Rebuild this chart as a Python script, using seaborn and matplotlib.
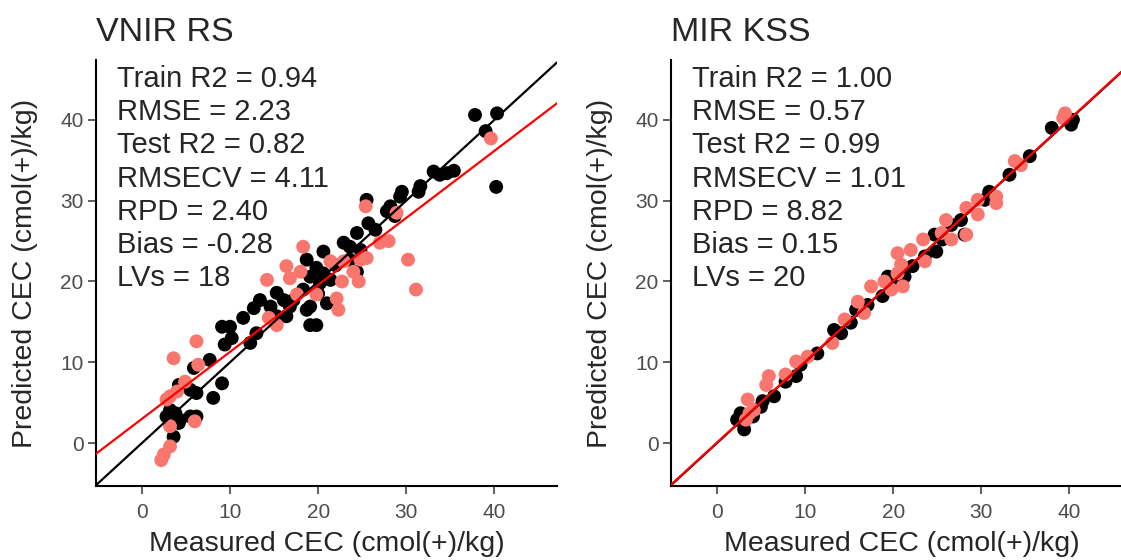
import matplotlib
matplotlib.use('Agg')
import matplotlib.pyplot as plt
import seaborn as sns
import numpy as np
import pandas as pd

# ---------------------------------------------------------------------------
# Datos
# ---------------------------------------------------------------------------
# VNIR RS - calibración (negro)
vnir_train_x = [37.8, 40.3, 40.2, 39.0, 33.1, 33.8, 34.6, 35.4, 31.6, 31.4, 29.5, 29.3,
                28.2, 27.8, 28.7, 25.5, 25.7, 26.5, 24.4, 22.9, 23.6, 24.8, 20.6, 18.7,
                19.8, 20.6, 21.4, 20.2, 19.1, 18.3, 19.1, 18.7, 19.1, 19.8, 21.0, 24.4,
                23.6, 17.2, 16.8, 16.1, 15.3, 14.6, 13.4, 12.7, 11.5, 13.0, 12.3, 10.0,
                9.1, 10.2, 9.4, 7.7, 5.9, 9.1, 8.1, 6.2, 5.5, 4.2, 3.2, 3.8, 2.8, 4.3,
                5.5, 6.2, 3.6, 4.2, 15.3, 16.4, 22.0, 20.0]
vnir_train_y = [40.6, 40.8, 31.7, 38.6, 33.6, 33.2, 33.4, 33.7, 31.8, 31.1, 31.1, 30.5,
                29.3, 28.7, 28.1, 30.1, 27.2, 26.4, 26.0, 24.8, 24.3, 23.9, 23.7, 22.7,
                21.7, 21.0, 20.2, 19.8, 20.6, 19.0, 16.9, 16.5, 14.6, 14.6, 17.3, 21.2,
                22.7, 17.7, 16.9, 17.7, 18.6, 16.9, 17.7, 16.7, 15.5, 13.6, 12.4, 14.4,
                14.4, 13.0, 12.2, 10.3, 9.3, 7.4, 5.6, 6.2, 6.6, 7.2, 4.1, 3.7, 3.3, 2.9,
                3.3, 3.3, 0.8, 2.5, 15.7, 15.7, 22.0, 18.5]
# VNIR RS - validación (salmón)
vnir_test_x = [39.6, 25.4, 28.9, 28.0, 27.0, 25.5, 24.8, 30.2, 31.1, 18.3, 21.4, 16.4,
               16.8, 14.2, 18.0, 22.9, 24.0, 24.6, 22.7, 22.1, 22.3, 19.8, 17.6, 14.4,
               15.3, 6.2, 3.6, 6.4, 4.9, 4.0, 3.2, 2.8, 6.0, 3.2, 3.2, 2.5, 2.2]
vnir_test_y = [37.7, 29.3, 28.5, 25.0, 24.8, 22.9, 22.7, 22.7, 19.0, 24.3, 22.5, 21.9,
               20.4, 20.2, 21.2, 22.5, 21.2, 20.0, 20.0, 17.9, 16.5, 18.4, 18.4, 15.5,
               14.6, 12.6, 10.5, 9.7, 7.6, 6.4, 5.8, 5.4, 2.7, 2.1, -0.4, -1.4, -2.1]

# MIR KSS - calibración (negro)
mir_train_x = [38.0, 40.2, 40.4, 35.5, 33.2, 30.9, 30.4, 28.1, 27.7, 26.6, 24.7, 24.9,
               23.6, 22.2, 21.3, 19.4, 18.8, 17.1, 15.8, 13.3, 14.1, 11.4, 9.5, 9.0,
               7.8, 6.5, 5.2, 5.0, 2.7, 2.3, 3.1, 4.1, 15.2, 20.2, 25.6]
mir_train_y = [39.0, 39.4, 40.0, 35.5, 33.2, 31.1, 30.1, 25.8, 27.6, 27.0, 25.8, 23.7,
               23.1, 21.9, 20.6, 20.6, 18.2, 17.1, 16.5, 14.0, 13.6, 11.1, 9.7, 8.3,
               7.6, 5.8, 5.2, 4.5, 3.7, 2.9, 1.7, 3.3, 14.9, 19.6, 25.2]
# MIR KSS - validación (salmón)
mir_test_x = [39.5, 39.3, 33.8, 34.5, 31.7, 31.7, 29.6, 28.3, 29.6, 28.3, 26.0, 26.6,
              25.5, 23.4, 22.0, 20.5, 23.6, 20.9, 20.5, 21.1, 19.8, 17.5, 19.0, 16.0,
              16.7, 14.5, 13.1, 10.3, 9.0, 7.8, 5.9, 5.6, 3.5, 4.2, 3.3, 3.7]
mir_test_y = [40.8, 40.2, 34.9, 34.4, 30.5, 29.7, 30.1, 29.1, 28.3, 25.8, 27.6, 25.2,
              26.0, 25.2, 23.9, 23.5, 22.5, 22.1, 21.0, 19.4, 19.0, 19.4, 20.0, 17.5,
              16.1, 15.3, 12.4, 10.7, 10.1, 8.5, 8.3, 7.2, 5.4, 4.1, 2.9, 3.7]

# Recta de ajuste (rojo): intercepto, pendiente
vnir_fit = (3.0, 0.829)
mir_fit = (0.05, 1.0)

titles = ['VNIR RS', 'MIR KSS']
stats = [
    ['Train R2 = 0.94', 'RMSE = 2.23', 'Test R2 = 0.82', 'RMSECV = 4.11',
     'RPD = 2.40', 'Bias = -0.28', 'LVs = 18'],
    ['Train R2 = 1.00', 'RMSE = 0.57', 'Test R2 = 0.99', 'RMSECV = 1.01',
     'RPD = 8.82', 'Bias = 0.15', 'LVs = 20'],
]
ticks = [0, 10, 20, 30, 40]

# ---------------------------------------------------------------------------
# Estilo
# ---------------------------------------------------------------------------
sns.set_theme(style="ticks")
plt.rcParams['font.family'] = ['Liberation Sans', 'DejaVu Sans']

W, H = 1121, 560
fig = plt.figure(figsize=(W / 100, H / 100), dpi=100)

panels = [
    (vnir_train_x, vnir_train_y, vnir_test_x, vnir_test_y, vnir_fit, 96),
    (mir_train_x, mir_train_y, mir_test_x, mir_test_y, mir_fit, 671),
]

for k, (trx, try_, tex, tey, fit, left_px) in enumerate(panels):
    ax = fig.add_axes([left_px / W, 74 / H, 461 / W, 426 / H])
    df_tr = pd.DataFrame({'x': trx, 'y': try_})
    df_te = pd.DataFrame({'x': tex, 'y': tey})
    sns.scatterplot(data=df_tr, x='x', y='y', color='black', s=100,
                    edgecolor='none', ax=ax, zorder=2)
    sns.scatterplot(data=df_te, x='x', y='y', color='#F8766D', s=100,
                    edgecolor='none', ax=ax, zorder=3)
    ax.axline((0, 0), slope=1, color='black', lw=1.6, zorder=4)
    ax.axline((0, fit[0]), slope=fit[1], color='#FF0000', lw=1.6, zorder=5)

    ax.set_xlim(-5.2, 47.1)
    ax.set_ylim(-5.3, 47.4)
    ax.set_xticks(ticks)
    ax.set_yticks(ticks)
    ax.tick_params(axis='both', labelsize=15, labelcolor='#4D4D4D',
                   color='#333333', length=6, width=1.1, pad=3)
    ax.tick_params(axis='x', pad=6)
    for side in ['top', 'right']:
        ax.spines[side].set_visible(False)
    for side in ['left', 'bottom']:
        ax.spines[side].set_color('black')
        ax.spines[side].set_linewidth(1.5)

    ax.set_xlabel('Measured CEC (cmol(+)/kg)', fontsize=20.5, labelpad=7)
    ax.set_ylabel('Predicted CEC (cmol(+)/kg)', fontsize=20.5, labelpad=16)
    ax.set_title(titles[k], loc='left', fontsize=24.5, pad=14)

    ax.text(0.046, 0.988, '\n'.join(stats[k]), transform=ax.transAxes,
            ha='left', va='top', fontsize=21, linespacing=1.235, zorder=6)

plt.savefig('out.png', dpi=100, facecolor='white')
plt.close()
